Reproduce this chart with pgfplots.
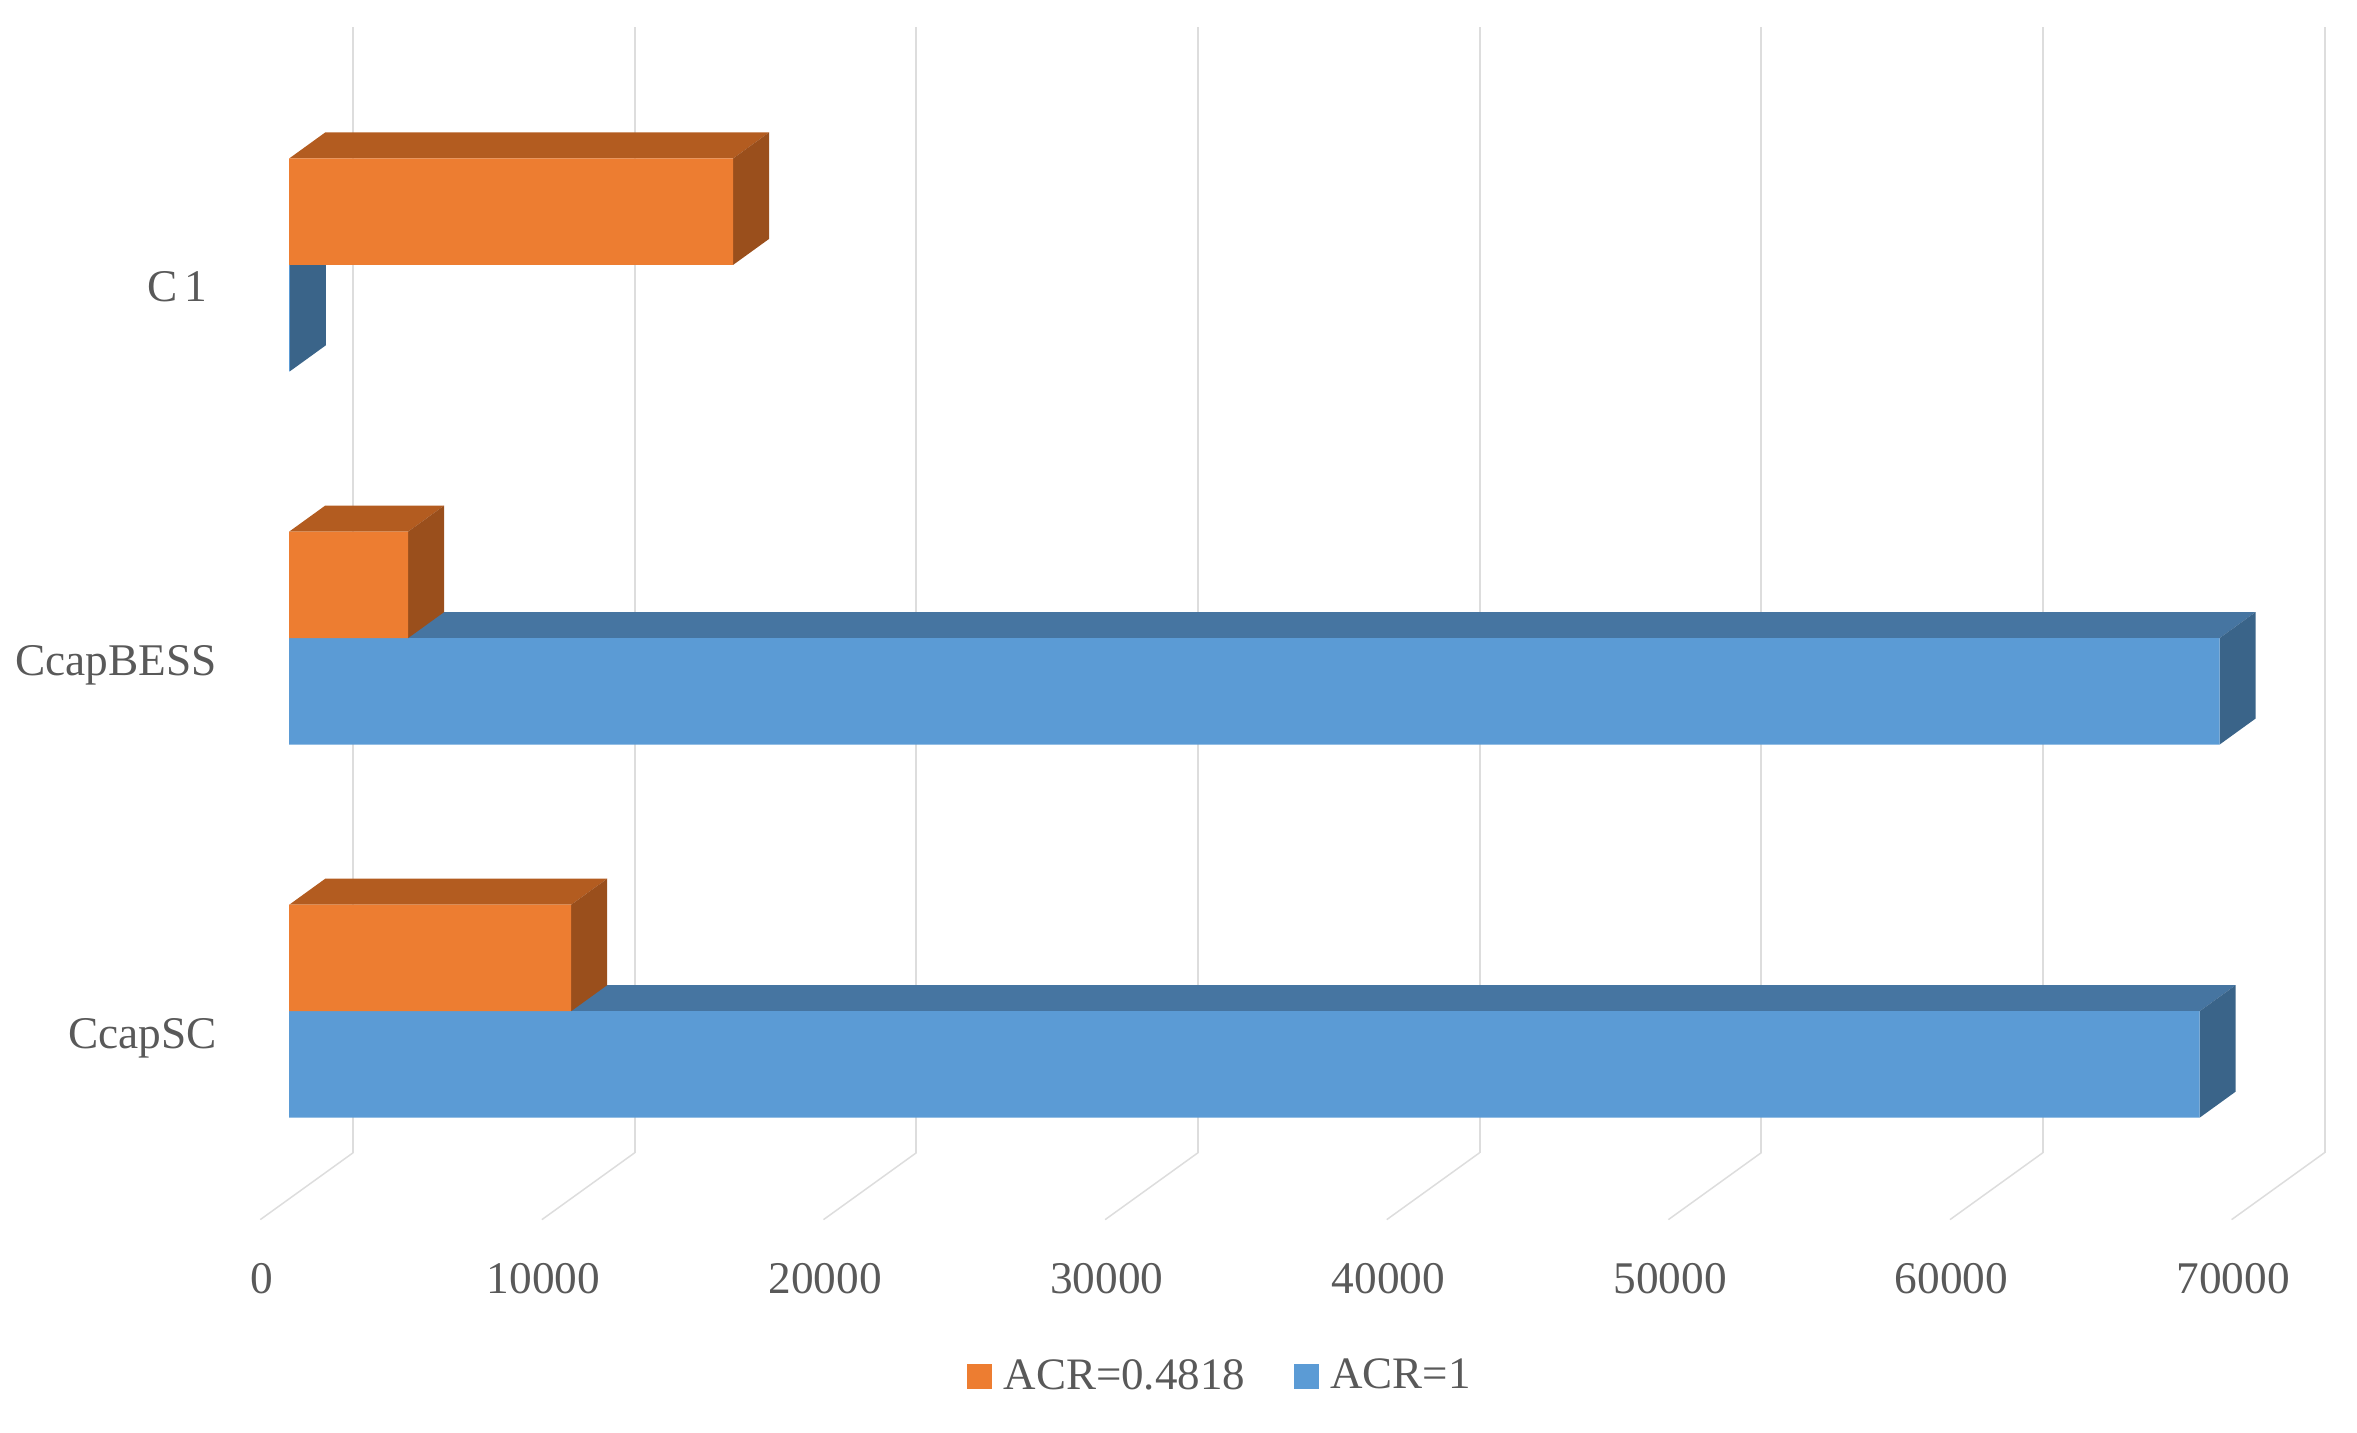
\documentclass[border=0pt]{standalone}
\usepackage{pgfplots}
\pgfplotsset{compat=1.18}
\usepackage{fontspec}
\setmainfont{Liberation Serif}
\definecolor{orF}{HTML}{ED7D31}
\definecolor{orT}{HTML}{B35C20}
\definecolor{orS}{HTML}{9A4F1C}
\definecolor{blF}{HTML}{5B9BD5}
\definecolor{blT}{HTML}{4675A1}
\definecolor{blS}{HTML}{3A6489}
\definecolor{gridc}{HTML}{DDDDDD}
\definecolor{txt}{HTML}{595959}
% value, value + depth (1278), lower front y, top fill, side fill
\newcommand{\depthfaces}[5]{%
  \pgfmathsetmacro\yh{#3+0.2853}%
  \pgfmathsetmacro\yb{#3+0.0697}%
  \pgfmathsetmacro\yhb{#3+0.3550}%
  \addplot[fill=#4,draw=none,forget plot] coordinates {(0,\yh)(#1,\yh)(#2,\yhb)(1278,\yhb)};
  \addplot[fill=#5,draw=none,forget plot] coordinates {(#1,#3)(#2,\yb)(#2,\yhb)(#1,\yh)};
}
\begin{document}
\begin{tikzpicture}
% wall grid and floor lines, tick labels
\begin{axis}[
  at={(105.9pt,84pt)},anchor=south west,
  scale only axis,width=591.57pt,height=337.8pt,
  xmin=0,xmax=70000,ymin=0,ymax=1,clip=false,
  axis line style={draw=none},
  major tick length=0pt,
  xtick={0,10000,20000,30000,40000,50000,60000,70000},
  scaled x ticks=false,
  ytick=\empty,
  xmajorgrids,
  grid style={gridc,line width=0.6pt},
  xticklabel style={/pgf/number format/1000 sep=,/pgf/number format/fixed,/pgf/number format/assume math mode=true,
    font=\fontsize{13.6}{16}\selectfont,text=txt,xshift=-27.4pt,yshift=-33pt,inner sep=0pt},
]
\addplot[gridc,line width=0.45pt] coordinates {(0,0)(-3301,-0.0595)};
\addplot[gridc,line width=0.45pt] coordinates {(10000,0)(6699,-0.0595)};
\addplot[gridc,line width=0.45pt] coordinates {(20000,0)(16699,-0.0595)};
\addplot[gridc,line width=0.45pt] coordinates {(30000,0)(26699,-0.0595)};
\addplot[gridc,line width=0.45pt] coordinates {(40000,0)(36699,-0.0595)};
\addplot[gridc,line width=0.45pt] coordinates {(50000,0)(46699,-0.0595)};
\addplot[gridc,line width=0.45pt] coordinates {(60000,0)(56699,-0.0595)};
\addplot[gridc,line width=0.45pt] coordinates {(70000,0)(66699,-0.0595)};
\end{axis}
% bars
\begin{axis}[
  at={(0pt,0pt)},anchor=south west,
  scale only axis,width=707.1pt,height=429.9pt,
  xmin=-10259,xmax=73412,ymin=-1.1293,ymax=2.7100,clip=false,
  axis line style={draw=none},
  major tick length=0pt,
  xtick=\empty,
  ytick={0,1,2},
  yticklabels={CcapSC,CcapBESS,\raisebox{3.2pt}{C\,1}\rule{2.7pt}{0pt}},
  yticklabel style={anchor=east,font=\fontsize{13.6}{16}\selectfont,text=txt,
     inner sep=0pt,xshift=65.1pt,yshift=-8.1pt},
  reverse legend,
  legend columns=-1,
  legend style={at={(0.5185,0.0391)},anchor=center,draw=none,fill=none,
     font=\fontsize{13.5}{16}\selectfont,text=txt,
     /tikz/every even column/.append style={column sep=12.5pt},inner sep=0pt},
  legend image code/.code={\fill[#1] (0pt,-3.8pt) rectangle (7.6pt,3.8pt);\path (9pt,0pt);},
]
% ACR=1
\depthfaces{67838}{69116}{-0.2853}{blT}{blS}
\depthfaces{68548}{69826}{0.7147}{blT}{blS}
\depthfaces{20}{1298}{1.7147}{blT}{blS}
\addplot[xbar,bar width=31.95pt,bar shift=-15.975pt,fill=blF,draw=none]
  coordinates {(67838,0)(68548,1)(20,2)};
\addlegendentry{ACR=1}
% ACR=0.4818
\depthfaces{10011}{11289}{0}{orT}{orS}
\depthfaces{4224}{5502}{1}{orT}{orS}
\depthfaces{15761}{17039}{2}{orT}{orS}
\addplot[xbar,bar width=31.95pt,bar shift=15.975pt,fill=orF,draw=none]
  coordinates {(10011,0)(4224,1)(15761,2)};
\addlegendentry{ACR=0.4818}
\end{axis}
\end{tikzpicture}
\end{document}
